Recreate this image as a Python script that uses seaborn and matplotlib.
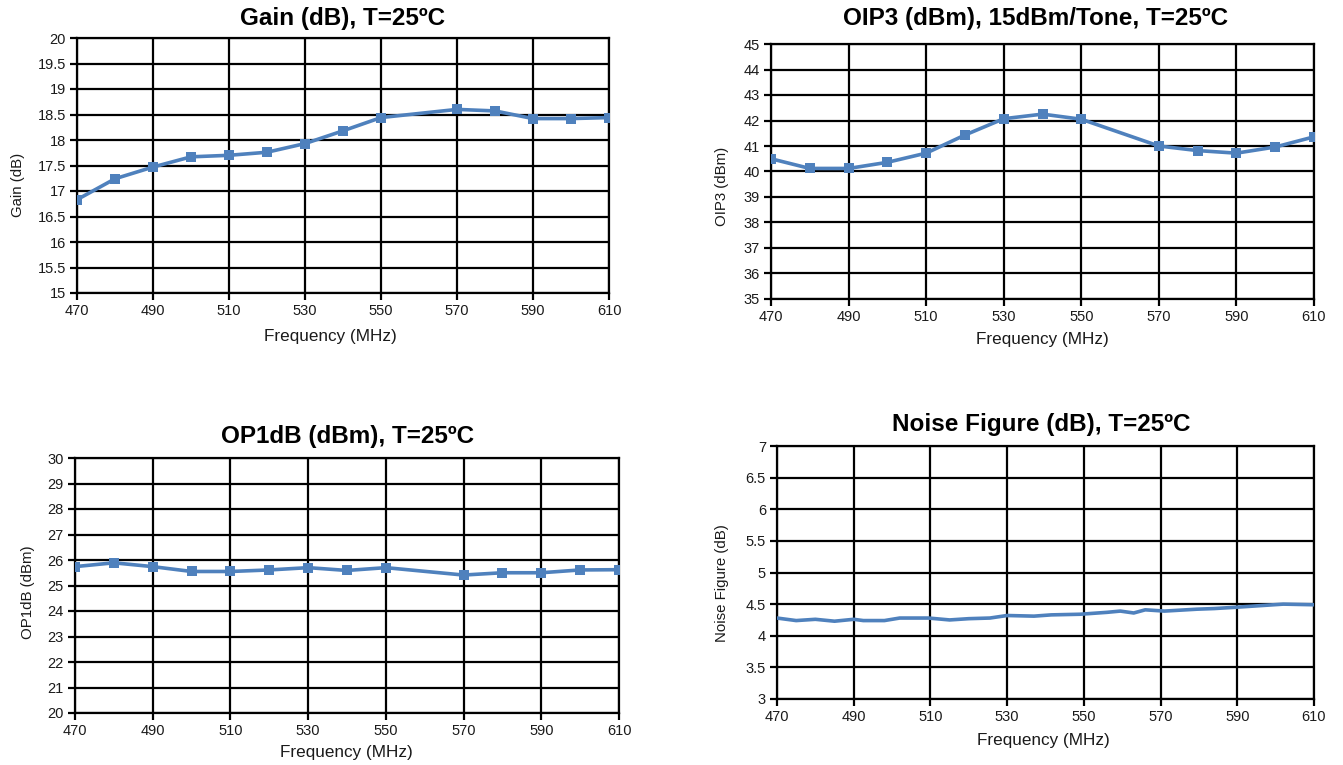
import matplotlib
matplotlib.use("Agg")
import matplotlib.pyplot as plt
import seaborn as sns
import pandas as pd

# ---- data ----
freq_main = [470, 480, 490, 500, 510, 520, 530, 540, 550, 570, 580, 590, 600, 610]
gain_db = [16.83, 17.24, 17.47, 17.67, 17.70, 17.76, 17.93, 18.18, 18.44, 18.60, 18.57, 18.42, 18.42, 18.44]
oip3_dbm = [40.50, 40.12, 40.12, 40.36, 40.72, 41.43, 42.07, 42.25, 42.05, 41.00, 40.82, 40.72, 40.96, 41.36]
op1db_dbm = [25.74, 25.89, 25.74, 25.55, 25.55, 25.61, 25.70, 25.59, 25.70, 25.41, 25.50, 25.50, 25.61, 25.62]

freq_nf = [470, 475, 480, 485, 490, 492.5, 498, 502, 509.5, 515, 520, 525.5, 530, 537, 541.5,
           549, 556, 559.5, 563, 566, 571, 579.5, 584, 589.5, 594.5, 602, 610]
nf_db = [4.28, 4.24, 4.26, 4.23, 4.26, 4.24, 4.24, 4.28, 4.28, 4.25, 4.27, 4.28, 4.32, 4.31, 4.33,
         4.34, 4.37, 4.39, 4.36, 4.41, 4.39, 4.42, 4.43, 4.45, 4.47, 4.50, 4.49]

titles = ["Gain (dB), T=25ºC", "OIP3 (dBm), 15dBm/Tone, T=25ºC",
          "OP1dB (dBm), T=25ºC", "Noise Figure (dB), T=25ºC"]
ylabels = ["Gain (dB)", "OIP3 (dBm)", "OP1dB (dBm)", "Noise Figure (dB)"]
xlabel = "Frequency (MHz)"
xticks = [470, 490, 510, 530, 550, 570, 590, 610]

sns.set_theme(style="white")
plt.rcParams['font.family'] = ['Liberation Sans', 'DejaVu Sans']

W, H = 1343, 765
fig = plt.figure(figsize=(W / 100, H / 100), dpi=100)

def px_axes(l, t, r, b):
    return fig.add_axes([l / W, 1 - b / H, (r - l) / W, (b - t) / H])

LINE = "#4F81BD"

panels = [
    dict(box=(77, 38, 609, 293), x=freq_main, y=gain_db, ylim=(15, 20), step=0.5, marker=True,
         title_xy=(343, 18), ylab_xy=(18, 185), xlab_xy=(330, 337)),
    dict(box=(771, 44, 1314, 299), x=freq_main, y=oip3_dbm, ylim=(35, 45), step=1, marker=True,
         title_xy=(1036, 18), ylab_xy=(722, 186), xlab_xy=(1042, 340)),
    dict(box=(75, 458, 619, 713), x=freq_main, y=op1db_dbm, ylim=(20, 30), step=1, marker=True,
         title_xy=(348, 437), ylab_xy=(28, 592), xlab_xy=(346, 752)),
    dict(box=(777, 446, 1314, 699), x=freq_nf, y=nf_db, ylim=(3, 7), step=0.5, marker=False,
         title_xy=(1041, 425), ylab_xy=(722, 583), xlab_xy=(1043, 741)),
]

for i, p in enumerate(panels):
    l, t, r, b = p["box"]
    ax = px_axes(l, t, r, b)
    df = pd.DataFrame({"f": p["x"], "v": p["y"]})
    if p["marker"]:
        sns.lineplot(data=df, x="f", y="v", ax=ax, color=LINE, linewidth=2.6,
                     marker="s", markersize=6.5, markeredgewidth=0, zorder=5)
    else:
        sns.lineplot(data=df, x="f", y="v", ax=ax, color=LINE, linewidth=2.6, zorder=5)
    ax.set_xlim(470, 610)
    lo, hi = p["ylim"]
    ax.set_ylim(lo, hi)
    n = int(round((hi - lo) / p["step"]))
    yt = [lo + k * p["step"] for k in range(n + 1)]
    ax.set_yticks(yt)
    ax.set_yticklabels([f"{v:g}" for v in yt])
    ax.set_xticks(xticks)
    ax.grid(True, color="black", linewidth=1.6)
    ax.set_axisbelow(True)
    for s in ax.spines.values():
        s.set_color("black")
        s.set_linewidth(1.6)
    ax.tick_params(axis="both", which="both", direction="out", length=5, width=1.6,
                   color="black", labelsize=10.5, labelcolor="#1a1a1a", pad=3)
    ax.tick_params(left=True, bottom=True)
    ax.set_xlabel(xlabel, fontsize=12.3, color="#1a1a1a", va="center")
    ax.set_ylabel(ylabels[i], fontsize=10.8, color="#1a1a1a", va="center")
    lx, ly = p["ylab_xy"]
    ax.yaxis.set_label_coords((lx - l) / (r - l), (b - ly) / (b - t))
    xx, xy = p["xlab_xy"]
    ax.xaxis.set_label_coords((xx - l) / (r - l), (b - xy) / (b - t))
    tx, ty = p["title_xy"]
    fig.text(tx / W, 1 - ty / H, titles[i], ha="center", va="center",
             fontsize=17.5, fontweight="bold", color="black")

fig.savefig("out.png", dpi=100)
